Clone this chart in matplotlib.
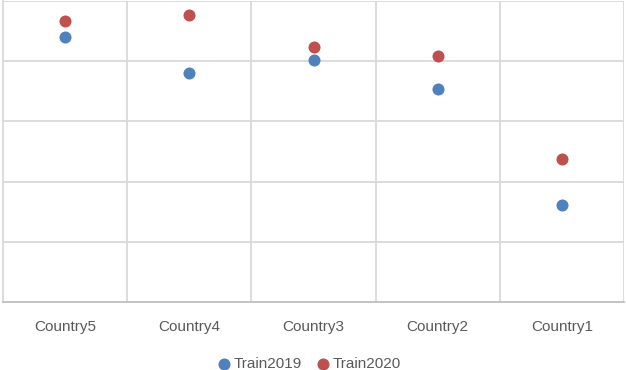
import numpy as np
import matplotlib.pyplot as plt

countries = ['Country5', 'Country4', 'Country3', 'Country2', 'Country1']
train2019 = [4.40, 3.81, 4.02, 3.53, 1.61]
train2020 = [4.67, 4.77, 4.24, 4.09, 2.37]

plt.rcParams['font.family'] = ['Liberation Sans', 'DejaVu Sans']

fig = plt.figure(figsize=(6.26, 3.70), dpi=100)
ax = fig.add_axes([3/626, 68/370, 621/626, 301/370])

x = np.arange(len(countries))
ax.scatter(x, train2019, s=75, color='#4F81BD', label='Train2019', zorder=3, linewidths=0)
ax.scatter(x, train2020, s=75, color='#C0504D', label='Train2020', zorder=3, linewidths=0)

ax.set_xlim(-0.5, len(countries) - 0.5)
ax.set_ylim(0, 5)

# grid lines
for yv in range(1, 6):
    ax.axhline(yv, color='#D9D9D9', lw=1.3, zorder=1)
for xv in np.arange(0.5, len(countries), 1):
    ax.axvline(xv, color='#D9D9D9', lw=1.3, zorder=1)

for s in ['top', 'right']:
    ax.spines[s].set_visible(False)
ax.spines['left'].set_color('#D9D9D9')
ax.spines['left'].set_linewidth(1.3)
ax.spines['bottom'].set_color('#BFBFBF')
ax.spines['bottom'].set_linewidth(1.3)

ax.set_yticks([])
ax.set_xticks(x)
ax.set_xticklabels(countries, fontsize=11, color='#595959')
ax.tick_params(axis='x', length=0, pad=13)

fig.legend(loc='center', bbox_to_anchor=(0.487, 1 - 364/370), ncol=2, frameon=False,
           fontsize=11, handletextpad=-0.4, columnspacing=0.4, labelcolor='#595959',
           borderpad=0.05)

plt.savefig('out.png', dpi=100)
